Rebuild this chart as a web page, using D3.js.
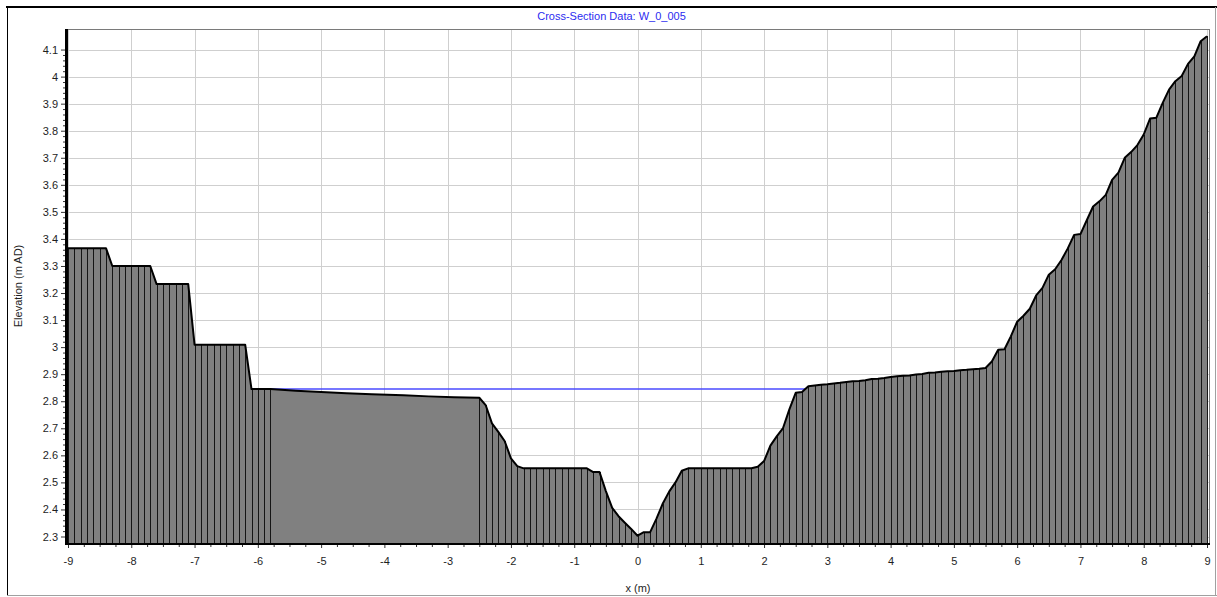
<!DOCTYPE html>
<html>
<head>
<meta charset="utf-8">
<script src="https://cdn.jsdelivr.net/npm/d3@7"></script>
<style>
  html, body { margin: 0; padding: 0; background: #fff; }
  svg { display: block; }
  text { font-family: "Liberation Sans", Arial, sans-serif; font-size: 11px; }
</style>
</head>
<body>
<svg id="chart" width="1217" height="597"></svg>
<script>
// ---- Chart texts ----
const chartTitle = "Cross-Section Data: W_0_005";
const xAxisTitle = "x (m)";
const yAxisTitle = "Elevation (m AD)";

// ---- Surveyed cross-section: offset from centreline (m) ----
const stationX = [
  -9.0, -8.9, -8.8, -8.7, -8.6, -8.5, -8.4,
  -8.3, -8.2, -8.1, -8.0, -7.9, -7.8, -7.7,
  -7.6, -7.5, -7.4, -7.3, -7.2, -7.1,
  -7.0, -6.9, -6.8, -6.7, -6.6, -6.5, -6.4, -6.3, -6.2,
  -6.1, -6.0, -5.9, -5.8,
  -5.4, -5.0, -4.6, -4.2, -3.7, -3.3, -2.9,
  -2.5, -2.4, -2.3, -2.2, -2.1, -2.0, -1.9,
  -1.8, -1.7, -1.6, -1.5, -1.4, -1.3, -1.2, -1.1, -1.0, -0.9, -0.8,
  -0.7, -0.6, -0.5, -0.4, -0.3, -0.2, -0.1, 0.0, 0.1, 0.2, 0.3, 0.4, 0.5, 0.6, 0.7,
  0.8, 0.9, 1.0, 1.1, 1.2, 1.3, 1.4, 1.5, 1.6, 1.7, 1.8,
  1.9, 2.0, 2.1, 2.2, 2.3, 2.4, 2.5, 2.6, 2.7, 2.8,
  2.9, 3.0, 3.1, 3.2, 3.3, 3.4, 3.5, 3.6, 3.7, 3.8,
  3.9, 4.0, 4.1, 4.2, 4.3, 4.4, 4.5, 4.6, 4.7, 4.8,
  4.9, 5.0, 5.1, 5.2, 5.3, 5.4, 5.5, 5.6, 5.7, 5.8,
  5.9, 6.0, 6.1, 6.2, 6.3, 6.4, 6.5, 6.6, 6.7, 6.8,
  6.9, 7.0, 7.1, 7.2, 7.3, 7.4, 7.5, 7.6, 7.7, 7.8,
  7.9, 8.0, 8.1, 8.2, 8.3, 8.4, 8.5, 8.6, 8.7, 8.8,
  8.9, 9.0
];

// ---- Bed elevation at each station (m AD) ----
const bedLevel = [
  3.366, 3.366, 3.366, 3.366, 3.366, 3.366, 3.366,
  3.300, 3.300, 3.300, 3.300, 3.300, 3.300, 3.300,
  3.233, 3.233, 3.233, 3.233, 3.233, 3.233,
  3.009, 3.009, 3.009, 3.009, 3.009, 3.009, 3.009, 3.009, 3.009,
  2.845, 2.845, 2.845, 2.845,
  2.839, 2.834, 2.830, 2.826, 2.822, 2.818, 2.815,
  2.813, 2.786, 2.718, 2.687, 2.653, 2.589, 2.560,
  2.552, 2.552, 2.552, 2.552, 2.552, 2.552, 2.552, 2.552, 2.552, 2.552, 2.552,
  2.538, 2.538, 2.468, 2.406, 2.375, 2.351, 2.328, 2.303, 2.316, 2.316, 2.366, 2.422, 2.466, 2.500, 2.543,
  2.552, 2.552, 2.552, 2.552, 2.552, 2.552, 2.552, 2.552, 2.552, 2.552, 2.552,
  2.558, 2.579, 2.636, 2.670, 2.701, 2.770, 2.831, 2.834, 2.855, 2.858,
  2.861, 2.863, 2.866, 2.868, 2.871, 2.874, 2.875, 2.878, 2.882, 2.883,
  2.886, 2.890, 2.892, 2.894, 2.895, 2.899, 2.901, 2.905, 2.906, 2.909,
  2.911, 2.912, 2.915, 2.916, 2.918, 2.920, 2.923, 2.947, 2.990, 2.992,
  3.040, 3.094, 3.116, 3.142, 3.191, 3.219, 3.268, 3.288, 3.322, 3.365,
  3.415, 3.418, 3.469, 3.520, 3.539, 3.563, 3.618, 3.645, 3.700, 3.721,
  3.747, 3.786, 3.845, 3.848, 3.903, 3.952, 3.983, 4.002, 4.047, 4.075,
  4.131, 4.149
];

// Water surface elevation (m AD)
const waterLevel = 2.845;
// Stations strictly inside this span carry no hatching
const unhatchedSpan = [-5.8, -2.5];

// ---- Axes ----
const xTicks = [-9, -8, -7, -6, -5, -4, -3, -2, -1, 0, 1, 2, 3, 4, 5, 6, 7, 8, 9];
const yTicks = [2.3, 2.4, 2.5, 2.6, 2.7, 2.8, 2.9, 3, 3.1, 3.2, 3.3, 3.4, 3.5, 3.6, 3.7, 3.8, 3.9, 4, 4.1];
const xDomain = [-9, 9];
const yDomain = [2.276, 4.176];
const xMinorPerMajor = 4;   // quarter-metre minor ticks
const yMinorPerMajor = 5;   // 0.02 m minor ticks

// ---- Layout ----
const W = 1217, H = 597;
const plot = { left: 67, right: 1209, top: 29, bottom: 543 };
const fontFamily = "\"Liberation Sans\", Arial, sans-serif";
const tickText = d => String(d);   // plain hyphen for negatives

const svg = d3.select("#chart");

const x = d3.scaleLinear().domain(xDomain).range([plot.left + 1, plot.right - 2]);
const y = d3.scaleLinear().domain(yDomain).range([plot.bottom, plot.top]);

const profile = stationX.map((sx, i) => ({ x: sx, z: bedLevel[i] }));

// Outer panel frame
const frame = svg.append("g").attr("shape-rendering", "crispEdges");
frame.append("line").attr("x1", 6).attr("x2", W).attr("y1", 7).attr("y2", 7)
  .attr("stroke", "#000").attr("stroke-width", 2);
frame.append("line").attr("x1", 7.5).attr("x2", 7.5).attr("y1", 6).attr("y2", 596)
  .attr("stroke", "#000").attr("stroke-width", 1);
frame.append("line").attr("x1", 7).attr("x2", W).attr("y1", 595.5).attr("y2", 595.5)
  .attr("stroke", "#a0a0a0").attr("stroke-width", 1);
frame.append("line").attr("x1", 1215.5).attr("x2", 1215.5).attr("y1", 7).attr("y2", 596)
  .attr("stroke", "#a0a0a0").attr("stroke-width", 1);

// Title
svg.append("text")
  .attr("x", (7 + 1216) / 2).attr("y", 20)
  .attr("text-anchor", "middle")
  .attr("fill", "#2b2bf0")
  .text(chartTitle);

// Grid
const grid = svg.append("g").attr("shape-rendering", "crispEdges")
  .attr("stroke", "#cfcfcf").attr("stroke-width", 1);
grid.selectAll("line.v").data(xTicks).join("line").attr("class", "v")
  .attr("x1", d => Math.round(x(d)) + 0.5).attr("x2", d => Math.round(x(d)) + 0.5)
  .attr("y1", plot.top).attr("y2", plot.bottom);
grid.selectAll("line.h").data(yTicks).join("line").attr("class", "h")
  .attr("x1", plot.left).attr("x2", plot.right)
  .attr("y1", d => Math.round(y(d)) + 0.5).attr("y2", d => Math.round(y(d)) + 0.5);

// Plot box (top / right edges)
svg.append("path")
  .attr("d", `M${plot.left},${plot.top + 0.5}H${plot.right + 0.5}V${plot.bottom}`)
  .attr("fill", "none").attr("stroke", "#7a7a7a").attr("stroke-width", 1)
  .attr("shape-rendering", "crispEdges");

// Ground fill
const area = d3.area().x(d => x(d.x)).y0(plot.bottom).y1(d => y(d.z));
svg.append("path").datum(profile)
  .attr("d", area)
  .attr("fill", "#808080");

// Hatching at each surveyed station
const hatched = profile.filter(d => !(d.x > unhatchedSpan[0] && d.x < unhatchedSpan[1]));
svg.append("g").attr("shape-rendering", "crispEdges")
  .selectAll("line").data(hatched).join("line")
  .attr("x1", d => Math.round(x(d.x)) + 0.5).attr("x2", d => Math.round(x(d.x)) + 0.5)
  .attr("y1", d => y(d.z)).attr("y2", plot.bottom)
  .attr("stroke", "#151515").attr("stroke-width", 1);

// Water surface: spans the wetted width around the lowest bed point
const iMin = d3.minIndex(profile, d => d.z);
function edgeCrossing(step) {
  for (let i = iMin; i + step >= 0 && i + step < profile.length; i += step) {
    const a = profile[i], b = profile[i + step];
    if (b.z >= waterLevel) {
      const t = (waterLevel - a.z) / (b.z - a.z);
      return a.x + t * (b.x - a.x);
    }
  }
  return profile[step < 0 ? 0 : profile.length - 1].x;
}
const wetLeft = edgeCrossing(-1), wetRight = edgeCrossing(1);
svg.append("line")
  .attr("x1", x(wetLeft)).attr("x2", x(wetRight))
  .attr("y1", y(waterLevel)).attr("y2", y(waterLevel))
  .attr("stroke", "#4a4aff").attr("stroke-width", 1.6);

// Bed profile line
svg.append("path").datum(profile)
  .attr("d", d3.line().x(d => x(d.x)).y(d => y(d.z)))
  .attr("fill", "none").attr("stroke", "#000").attr("stroke-width", 2)
  .attr("stroke-linejoin", "round");

// Minor tick positions between majors
function minors(majors, n) {
  const out = [];
  for (let i = 0; i < majors.length - 1; i++) {
    for (let k = 1; k < n; k++) out.push(majors[i] + (majors[i + 1] - majors[i]) * k / n);
  }
  return out;
}

// Y axis
const yAxisG = svg.append("g").attr("transform", `translate(${plot.left - 2},0)`);
yAxisG.call(d3.axisLeft(y).tickValues(yTicks).tickSize(4).tickPadding(3).tickFormat(tickText));
yAxisG.append("g").call(d3.axisLeft(y).tickValues(minors(yTicks, yMinorPerMajor)).tickSize(2).tickFormat(""));
yAxisG.selectAll(".domain").remove();
yAxisG.selectAll("line").attr("stroke", "#333");
yAxisG.selectAll("text").attr("fill", "#1e1e1e").style("font-size", "11px")
  .style("font-family", fontFamily);

// X axis
const xAxisG = svg.append("g").attr("transform", `translate(0,${plot.bottom + 1})`);
xAxisG.call(d3.axisBottom(x).tickValues(xTicks).tickSize(4).tickPadding(9).tickFormat(tickText));
xAxisG.append("g").call(d3.axisBottom(x).tickValues(minors(xTicks, xMinorPerMajor)).tickSize(3).tickFormat(""));
xAxisG.selectAll(".domain").remove();
xAxisG.selectAll("line").attr("stroke", "#333");
xAxisG.selectAll("text").attr("fill", "#1e1e1e").style("font-size", "11px")
  .style("font-family", fontFamily);

// Heavy axis lines
svg.append("line").attr("x1", plot.left - 0.5).attr("x2", plot.left - 0.5)
  .attr("y1", plot.top).attr("y2", plot.bottom + 2)
  .attr("stroke", "#000").attr("stroke-width", 3).attr("shape-rendering", "crispEdges");
svg.append("line").attr("x1", plot.left - 2).attr("x2", plot.right + 1)
  .attr("y1", plot.bottom + 0.5).attr("y2", plot.bottom + 0.5)
  .attr("stroke", "#000").attr("stroke-width", 2).attr("shape-rendering", "crispEdges");

// Axis titles
svg.append("text")
  .attr("x", (plot.left + plot.right) / 2).attr("y", 592)
  .attr("text-anchor", "middle").attr("fill", "#1e1e1e")
  .text(xAxisTitle);
svg.append("text")
  .attr("transform", `translate(22,${(plot.top + plot.bottom) / 2}) rotate(-90)`)
  .attr("text-anchor", "middle").attr("fill", "#1e1e1e")
  .text(yAxisTitle);
</script>
</body>
</html>
